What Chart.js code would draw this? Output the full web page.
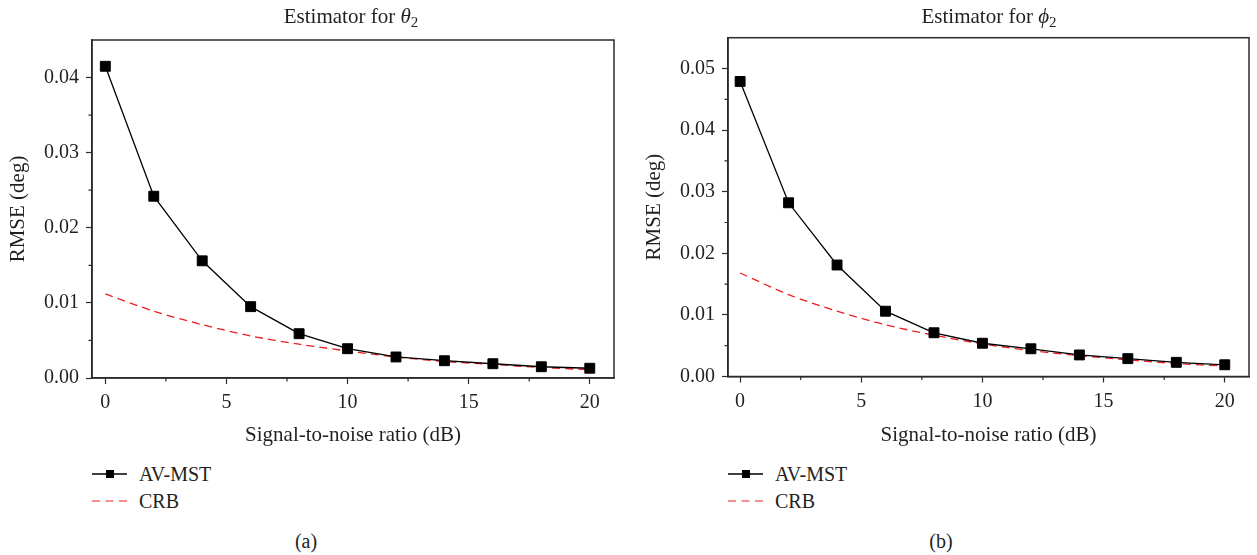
<!DOCTYPE html>
<html>
<head>
<meta charset="utf-8">
<script src="https://cdn.jsdelivr.net/npm/chart.js@4.4.1/dist/chart.umd.min.js"></script>
<style>
    body { margin: 0; background: #fff; width: 1257px; height: 555px; position: relative; overflow: hidden;
           font-family: "Liberation Serif", "DejaVu Serif", serif; color: #231f20; }
    canvas { position: absolute; top: 0; }
    .title { position: absolute; top: 6px; font-size: 21px; line-height: 21px; white-space: nowrap; transform: translateX(-50%); }
    .title sub { font-size: 15px; vertical-align: -4px; line-height: 0; }
    .legend-row { position: absolute; height: 20px; line-height: 20px; font-size: 20px; white-space: nowrap; }
    .legend-row svg { position: absolute; left: 0; top: 0; }
    .legend-row span { position: absolute; left: 47px; top: 0; }
    .caption { position: absolute; top: 531px; font-size: 20px; line-height: 20px; transform: translateX(-50%); }
</style>
</head>
<body>
<canvas id="chart-theta" width="628" height="460" style="left:0"></canvas>
<canvas id="chart-phi" width="621" height="460" style="left:636px"></canvas>

<div class="title" style="left:351px">Estimator for <i>θ</i><sub>2</sub></div>
<div class="title" style="left:989px">Estimator for <i>ϕ</i><sub>2</sub></div>

<div class="legend-row" style="left:92px; top:464px">
    <svg width="40" height="20"><line x1="0" y1="10" x2="35" y2="10" stroke="#000" stroke-width="1.3"/><rect x="14" y="6" width="8" height="8" fill="#000"/></svg>
    <span>AV-MST</span>
</div>
<div class="legend-row" style="left:92px; top:491px">
    <svg width="40" height="20"><line x1="0" y1="10" x2="35" y2="10" stroke="rgb(235,30,35)" stroke-width="1.2" stroke-dasharray="8 5.5"/></svg>
    <span>CRB</span>
</div>
<div class="legend-row" style="left:728px; top:464px">
    <svg width="40" height="20"><line x1="0" y1="10" x2="35" y2="10" stroke="#000" stroke-width="1.3"/><rect x="14" y="6" width="8" height="8" fill="#000"/></svg>
    <span>AV-MST</span>
</div>
<div class="legend-row" style="left:728px; top:491px">
    <svg width="40" height="20"><line x1="0" y1="10" x2="35" y2="10" stroke="rgb(235,30,35)" stroke-width="1.2" stroke-dasharray="8 5.5"/></svg>
    <span>CRB</span>
</div>

<div class="caption" style="left:306px">(a)</div>
<div class="caption" style="left:941px">(b)</div>

<script>
// SNR values (dB)
const snr = [0, 2, 4, 6, 8, 10, 12, 14, 16, 18, 20];

// Estimator for theta_2
const thetaAvMst = [0.0415, 0.0242, 0.0156, 0.0095, 0.0059, 0.0039, 0.0028, 0.0023, 0.0019, 0.0015, 0.0013];
const thetaCrb   = [0.0112, 0.0089, 0.0071, 0.0056, 0.0045, 0.0036, 0.0028, 0.0022, 0.0018, 0.0014, 0.0011];

// Estimator for phi_2
const phiAvMst = [0.0479, 0.0282, 0.0181, 0.0106, 0.0071, 0.0054, 0.0045, 0.0035, 0.0029, 0.0023, 0.0019];
const phiCrb   = [0.0168, 0.0133, 0.0106, 0.0084, 0.0067, 0.0053, 0.0042, 0.0034, 0.0027, 0.0021, 0.0017];

const FONT = '"Liberation Serif", "DejaVu Serif", serif';
const TEXT = '#231f20';
const AXIS = '#2b2b2b';
const CRB_RED = 'rgb(235, 30, 35)';

function minorValues(scale) {
    const t = scale.ticks.map(k => k.value);
    const step = t[1] - t[0];
    const out = [];
    for (let v = t[0] - step / 2; v < scale.max - step * 0.01; v += step) {
        if (v > scale.min) out.push(v);
    }
    return out;
}

// box around the plot + short minor ticks
const frameAndMinorTicks = {
    id: 'frameAndMinorTicks',
    afterDraw(chart) {
        const { ctx, chartArea: a, scales } = chart;
        ctx.save();
        ctx.strokeStyle = AXIS;
        ctx.lineWidth = 1.5;
        ctx.strokeRect(a.left, a.top, a.right - a.left, a.bottom - a.top);
        ctx.lineWidth = 1.2;
        ctx.beginPath();
        minorValues(scales.x).forEach(v => {
            const p = scales.x.getPixelForValue(v);
            ctx.moveTo(p, a.bottom);
            ctx.lineTo(p, a.bottom + 3.5);
        });
        minorValues(scales.y).forEach(v => {
            const p = scales.y.getPixelForValue(v);
            ctx.moveTo(a.left, p);
            ctx.lineTo(a.left - 3.5, p);
        });
        ctx.stroke();
        ctx.restore();
    }
};

function toPoints(values) {
    return snr.map((x, i) => ({ x: x, y: values[i] }));
}

function chartOptions(yMax, xMin, padding, titleBottom) {
    return {
        responsive: false,
        animation: false,
        devicePixelRatio: 1,
        layout: { padding: padding },
        plugins: { legend: { display: false }, tooltip: { enabled: false } },
        scales: {
            x: {
                type: 'linear',
                min: xMin,
                max: 21,
                afterFit: s => { s.height = 82; },
                ticks: { stepSize: 5, includeBounds: false, padding: 7, maxRotation: 0, color: TEXT, font: { family: FONT, size: 20 } },
                grid: { drawOnChartArea: false, tickLength: 6, tickWidth: 1.2, tickColor: AXIS },
                border: { color: AXIS, width: 1.5 },
                title: { display: true, text: 'Signal-to-noise ratio (dB)', color: TEXT, font: { family: FONT, size: 21 },
                         padding: { top: 0, bottom: titleBottom } }
            },
            y: {
                min: 0,
                max: yMax,
                afterFit: s => { s.width = 92; },
                ticks: { stepSize: 0.01, includeBounds: false, padding: 7, color: TEXT, font: { family: FONT, size: 20 },
                         callback: v => v.toFixed(2) },
                grid: { drawOnChartArea: false, tickLength: 6, tickWidth: 1.2, tickColor: AXIS },
                border: { color: AXIS, width: 1.5 },
                title: { display: true, text: 'RMSE (deg)', color: TEXT, font: { family: FONT, size: 21 },
                         padding: { top: 6, bottom: 0 } }
            }
        }
    };
}

function datasets(avmst, crb) {
    return [
        {
            label: 'AV-MST',
            data: toPoints(avmst),
            borderColor: '#000',
            backgroundColor: '#000',
            borderWidth: 1.3,
            pointStyle: 'rect',
            pointRadius: 7,
            pointBorderWidth: 1,
            tension: 0,
            order: 1
        },
        {
            label: 'CRB',
            data: toPoints(crb),
            borderColor: CRB_RED,
            borderWidth: 1.3,
            borderDash: [8, 5],
            pointRadius: 0,
            tension: 0.3,
            order: 2
        }
    ];
}

new Chart(document.getElementById('chart-theta').getContext('2d'), {
    type: 'line',
    data: { datasets: datasets(thetaAvMst, thetaCrb) },
    options: chartOptions(0.045, -0.55, { top: 40, right: 14, bottom: 0, left: 0 }, 11.6),
    plugins: [frameAndMinorTicks]
});

new Chart(document.getElementById('chart-phi').getContext('2d'), {
    type: 'line',
    data: { datasets: datasets(phiAvMst, phiCrb) },
    options: chartOptions(0.055, -0.5, { top: 37.7, right: 7.7, bottom: 1.5, left: 0 }, 10.1),
    plugins: [frameAndMinorTicks]
});
</script>
</body>
</html>
